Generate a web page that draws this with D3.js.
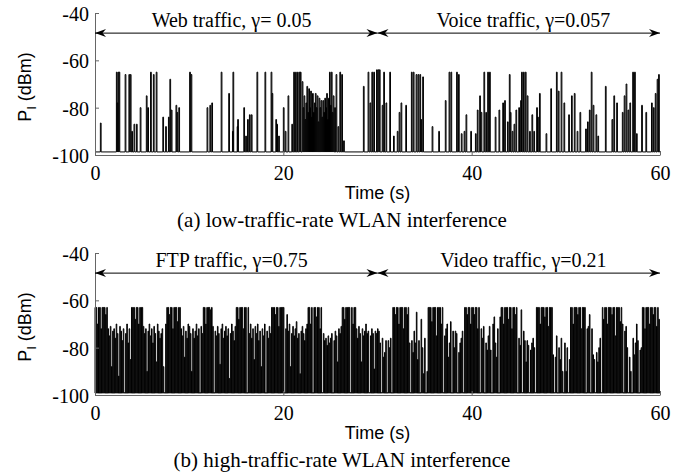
<!DOCTYPE html>
<html>
<head>
<meta charset="utf-8">
<script src="https://cdn.jsdelivr.net/npm/d3@7/dist/d3.min.js"></script>
<style>
  html, body { margin: 0; padding: 0; background: #fff; }
  svg { display: block; }
</style>
</head>
<body>
<div id="chart"></div>
<script>
// ---------------- data ----------------
const timeTicks = [0, 20, 40, 60];
const powerTicks = [-40, -60, -80, -100];

// panel (a): sparse packet spikes [time (s), peak power (dBm)]
const webEvents = [
  [0.57,-86.5],[2.27,-65],[2.35,-78],[2.45,-65],[2.55,-65],[3.2,-66],[3.6,-66],[3.75,-66],[3.9,-90],
  [4.14,-87],[4.4,-87],[4.8,-80],[5.45,-75],[5.6,-80],[5.9,-65],[6.2,-66],[6.5,-65],[7.2,-84],[7.5,-88],
  [7.8,-84],[7.95,-68],[8.1,-81],[8.6,-79],[8.7,-82],[8.9,-80],[10.05,-65],[10.2,-66],[11.9,-80],
  [12.2,-79],[12.4,-78],[13.4,-65],[14.2,-74],[14.6,-90],[14.65,-65],[15.1,-88],[15.15,-85],[15.8,-80],
  [16.0,-92],[16.2,-85],[16.4,-83],[16.6,-83],[17.2,-65],[18.05,-65],[18.7,-65],[18.8,-74],[19.2,-85],
  [19.3,-87],[19.5,-92],[20.0,-80],[20.2,-90],[20.5,-75],[20.9,-87],[21.1,-65],[21.3,-65],[21.5,-65],
  [21.7,-65],[21.8,-65],[22.0,-69],[22.1,-80],[22.2,-75],[22.3,-85],[22.4,-78],[22.5,-71],[22.6,-82],
  [22.7,-72],[22.8,-80],[22.9,-73],[23.0,-84],[23.1,-74],[23.2,-82],[23.3,-78],[23.4,-74],[23.5,-80],
  [23.6,-75],[23.7,-86],[23.8,-76],[23.9,-80],[24.0,-77],[24.1,-84],[24.2,-77],[24.3,-82],[24.4,-76],
  [24.5,-80],[24.6,-74],[24.7,-85],[24.8,-76],[24.9,-65],[25.0,-79],[25.1,-65],[25.2,-82],[25.3,-75],
  [25.45,-80],[25.6,-66],[25.8,-88],[26.0,-65],[26.2,-66],[26.4,-94],[28.5,-71],[29.0,-65],[29.2,-78],
  [29.4,-65],[29.6,-65],[29.9,-64]
];
const voiceEvents = [
  [30.05,-64],[30.2,-64],[30.5,-79],[30.66,-65],[30.9,-78],[31.3,-65],[31.7,-92],[32.1,-90],[32.3,-82],
  [32.5,-78],[33.0,-79],[33.6,-65],[33.8,-65],[34.1,-66],[34.3,-66],[34.5,-66],[34.6,-85],[34.8,-67],
  [35.8,-88],[36.5,-90],[37.2,-77],[37.6,-65],[37.8,-65],[38.4,-65],[38.6,-66],[38.9,-91],[39.2,-90],
  [39.4,-83],[39.9,-90],[40.4,-91],[40.6,-81],[40.85,-75],[41.0,-82],[41.3,-65],[41.5,-82],[41.7,-65],
  [41.9,-65],[42.5,-84],[42.9,-81],[43.3,-78],[43.5,-77],[43.8,-86],[44.0,-66],[44.1,-82],[44.3,-90],
  [44.5,-87],[44.7,-81],[45.0,-80],[45.2,-77],[45.3,-65],[45.5,-65],[45.7,-65],[45.9,-75],[46.15,-90],
  [46.4,-83],[46.6,-90],[46.9,-80],[47.0,-84],[47.2,-74],[47.9,-91],[48.4,-72],[49.0,-65],[49.2,-73],
  [49.5,-65],[49.8,-78],[50.3,-83],[50.6,-75],[50.9,-74],[51.2,-90],[51.5,-82],[52.1,-89],[52.3,-86],
  [52.5,-81],[52.7,-65],[52.9,-79],[53.2,-83],[53.4,-92],[54.2,-71],[54.9,-85],[55.1,-75],[55.4,-78],
  [56.0,-82],[56.2,-75],[56.4,-70],[56.6,-81],[56.8,-78],[57.1,-65],[57.3,-65],[57.5,-91],[58.05,-79],
  [58.5,-82],[59.1,-78],[59.3,-80],[59.5,-74],[59.7,-68],[59.85,-66]
];
const lowBaseline = -98.7;

// panel (b): dense packet levels, one value every 0.125 s (8 per second)
const sampleStep = 0.125;
const ftpStart = 0;
const ftpLevels = [
  -63,-63,-70,-63,-63,-72,-63,-63,  -63,-66,-63,-72,-75,-71,-88,-73,
  -72,-76,-70,-74,-92,-71,-73,-77,  -72,-99,-74,-70,-78,-72,-85,-63,
  -63,-63,-68,-63,-63,-70,-63,-63,  -63,-71,-74,-72,-90,-73,-70,-75,
  -72,-78,-71,-74,-86,-70,-73,-76,  -74,-72,-88,-99,-70,-63,-63,-66,
  -63,-63,-72,-63,-63,-63,-69,-63,  -63,-72,-75,-71,-84,-73,-76,-70,
  -71,-74,-90,-72,-76,-73,-70,-75,  -72,-99,-71,-74,-63,-63,-70,-63,
  -63,-63,-64,-63,-71,-99,-73,-75,  -71,-74,-87,-72,-70,-76,-73,-71,
  -75,-72,-93,-74,-70,-73,-77,-71,  -63,-63,-68,-63,-63,-63,-72,-63,
  -63,-99,-63,-74,-70,-76,-72,-85,  -71,-74,-70,-77,-73,-88,-72,-75,
  -70,-99,-73,-76,-71,-74,-63,-63,  -63,-66,-63,-63,-71,-63,-63,-63,
  -63,-99,-72,-66,-73,-70,-88,-74,  -71,-75,-72,-69,-76,-74,-91,-73,
  -71,-74,-77,-72,-70,-63,-63,-70,  -63,-99,-63,-63,-67,-63,-63,-72,
  -63,-99,-74,-77,-76,-79,-75,-78,  -76,-74,-99,-77,-73,-75,-86,-72,
  -74,-71,-63,-63,-68,-63,-63,-63,  -63,-99,-63,-70,-63,-63,-72,-76,
  -71,-74,-86,-72,-75,-73,-70,-74,  -73,-99,-75,-72,-74,-89,-73,-74
];
const videoStart = 30;
const videoLevels = [
  -72,-73,-78,-99,-76,-84,-82,-77,  -99,-77,-80,-76,-99,-63,-63,-66,
  -63,-63,-70,-63,-63,-63,-72,-63,  -63,-66,-63,-78,-99,-77,-82,-73,
  -78,-65,-85,-77,-99,-68,-80,-91,  -76,-99,-90,-63,-63,-63,-69,-63,
  -63,-63,-75,-63,-63,-63,-70,-63,  -99,-75,-72,-70,-84,-78,-69,-99,
  -73,-80,-73,-74,-99,-82,-78,-76,  -73,-99,-63,-63,-66,-63,-63,-70,
  -63,-63,-66,-63,-63,-72,-63,-99,  -72,-76,-71,-99,-78,-81,-75,-71,
  -81,-99,-70,-67,-78,-84,-72,-99,  -67,-63,-63,-70,-63,-63,-63,-68,
  -63,-63,-72,-63,-63,-66,-63,-99,  -76,-79,-64,-99,-73,-77,-86,-77,
  -79,-99,-81,-78,-76,-80,-99,-63,  -63,-63,-70,-63,-63,-63,-67,-63,
  -63,-71,-63,-63,-63,-83,-99,-84,  -75,-99,-80,-85,-76,-90,-99,-78,
  -90,-80,-99,-85,-63,-63,-70,-63,  -63,-63,-66,-63,-63,-72,-63,-63,
  -63,-99,-72,-71,-66,-99,-72,-83,  -85,-99,-82,-86,-80,-76,-99,-63,
  -68,-63,-63,-70,-63,-63,-63,-66,  -63,-63,-75,-63,-63,-63,-69,-63,
  -70,-99,-73,-71,-80,-99,-84,-90,  -99,-76,-83,-78,-70,-77,-99,-81,
  -80,-63,-63,-72,-63,-63,-63,-70,  -63,-63,-66,-63,-63,-71,-63,-68
];
const highBaseline = -99.2;

const arrowLevel = -48.5;
const splitTime = 30;
const segmentLabelsA = ["Web traffic, \u03B3= 0.05", "Voice traffic, \u03B3=0.057"];
const segmentLabelsB = ["FTP traffic, \u03B3=0.75", "Video traffic, \u03B3=0.21"];
const captions = ["(a) low-traffic-rate WLAN interference", "(b) high-traffic-rate WLAN interference"];

// ---------------- drawing ----------------
const W = 693, H = 476;
const svg = d3.select("#chart").append("svg").attr("width", W).attr("height", H);

const defs = svg.append("defs");
defs.append("marker")
  .attr("id", "head").attr("viewBox", "-12 -6 14 12")
  .attr("refX", 0).attr("refY", 0)
  .attr("markerWidth", 14).attr("markerHeight", 12)
  .attr("markerUnits", "userSpaceOnUse")
  .attr("orient", "auto-start-reverse")
  .append("path").attr("d", "M0,0 L-11,-4 L-7.5,0 L-11,4 Z").attr("fill", "#000");

const x = d3.scaleLinear().domain([0, 60]).range([95, 660]);

function pulses(events, base, width) {
  const pts = [[0, base]];
  events.slice().sort((a, b) => a[0] - b[0]).forEach(([t, p]) => {
    pts.push([t, base], [t, p], [t + width, p], [t + width, base]);
  });
  pts.push([60, base]);
  return pts;
}

function panel(opts) {
  const y = d3.scaleLinear().domain([-100, -40]).range([opts.bottom, opts.bottom - 142]);
  const g = svg.append("g");

  // signal
  const line = d3.line().x(d => x(d[0])).y(d => y(d[1]));
  g.append("path").attr("d", line(opts.points))
    .attr("fill", "none").attr("stroke", "#000").attr("stroke-width", 1);

  // axes
  const yAxis = d3.axisLeft(y).tickValues(powerTicks).tickFormat(d => String(d))
    .tickSizeInner(-4).tickSizeOuter(0).tickPadding(6);
  const ya = g.append("g").attr("transform", `translate(${x(0)},0)`).call(yAxis);
  const xAxis = d3.axisBottom(x).tickValues(timeTicks).tickFormat(d => String(d))
    .tickSizeInner(-4).tickSizeOuter(0).tickPadding(11);
  const xa = g.append("g").attr("transform", `translate(0,${y(-100)})`).call(xAxis);
  [ya, xa].forEach(a => {
    a.select(".domain").attr("stroke", "#666");
    a.selectAll(".tick line").attr("stroke", "#666");
    a.selectAll("text").attr("fill", "#000")
      .style("font-family", "'Liberation Serif', 'Times New Roman', serif").style("font-size", "20px");
  });
  ya.selectAll("text").attr("dy", "0.38em");

  // segment arrows
  const ay = y(arrowLevel);
  [[0, splitTime], [splitTime, 60]].forEach(([a, b], i) => {
    g.append("line").attr("x1", x(a)).attr("x2", x(b)).attr("y1", ay).attr("y2", ay)
      .attr("stroke", "#000").attr("stroke-width", 1)
      .attr("marker-start", "url(#head)").attr("marker-end", "url(#head)");
    g.append("text").attr("x", x(i === 0 ? 14.5 : 45.5)).attr("y", ay - 6)
      .attr("text-anchor", "middle")
      .style("font-family", "'Liberation Serif', 'Times New Roman', serif").style("font-size", "20px")
      .text(opts.labels[i]);
  });

  // y label
  const yl = g.append("text")
    .attr("transform", `translate(31,${(y(-40) + y(-100)) / 2 + 3}) rotate(-90)`)
    .attr("text-anchor", "middle")
    .style("font-family", "'Liberation Sans', Arial, sans-serif").style("font-size", "18px");
  yl.append("tspan").text("P");
  yl.append("tspan").attr("dy", 5).style("font-size", "13px").text("I");
  yl.append("tspan").attr("dy", -5).text(" (dBm)");

  // x label and caption
  g.append("text").attr("x", x(30)).attr("y", y(-100) + 44).attr("text-anchor", "middle")
    .style("font-family", "'Liberation Sans', Arial, sans-serif").style("font-size", "18px")
    .text("Time (s)");
  g.append("text").attr("x", 342).attr("y", y(-100) + 72).attr("text-anchor", "middle")
    .style("font-family", "'Liberation Serif', 'Times New Roman', serif").style("font-size", "21px")
    .text(opts.caption);
}

const lowPoints = pulses(webEvents.concat(voiceEvents), lowBaseline, 0.08);
const highEvents = ftpLevels.map((v, i) => [ftpStart + i * sampleStep, v])
  .concat(videoLevels.map((v, i) => [videoStart + i * sampleStep, v]));
const highPoints = pulses(highEvents, highBaseline, sampleStep * 0.5);

panel({ bottom: 155, points: lowPoints, labels: segmentLabelsA, caption: captions[0] });
panel({ bottom: 395, points: highPoints, labels: segmentLabelsB, caption: captions[1] });
</script>
</body>
</html>
